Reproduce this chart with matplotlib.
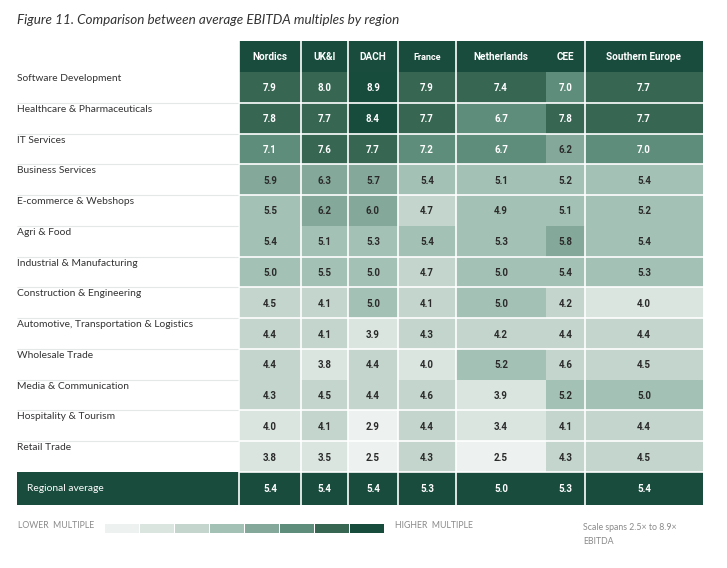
"""
Heatmap table of average EBITDA multiples by sector and region.
"""

import matplotlib.pyplot as plt
import numpy as np
from matplotlib.colors import BoundaryNorm, ListedColormap

plt.rcParams['font.family'] = ['Lato', 'DejaVu Sans']
BOLD_FONT = ['Roboto', 'DejaVu Sans']

regions = ["Nordics", "UK&I", "DACH", "France", "Netherlands", "CEE", "Southern Europe"]
sectors = [
    "Software Development",
    "Healthcare & Pharmaceuticals",
    "IT Services",
    "Business Services",
    "E-commerce & Webshops",
    "Agri & Food",
    "Industrial & Manufacturing",
    "Construction & Engineering",
    "Automotive, Transportation & Logistics",
    "Wholesale Trade",
    "Media & Communication",
    "Hospitality & Tourism",
    "Retail Trade",
]
multiples = [
    [7.9, 8.0, 8.9, 7.9, 7.4, 7.0, 7.7],
    [7.8, 7.7, 8.4, 7.7, 6.7, 7.8, 7.7],
    [7.1, 7.6, 7.7, 7.2, 6.7, 6.2, 7.0],
    [5.9, 6.3, 5.7, 5.4, 5.1, 5.2, 5.4],
    [5.5, 6.2, 6.0, 4.7, 4.9, 5.1, 5.2],
    [5.4, 5.1, 5.3, 5.4, 5.3, 5.8, 5.4],
    [5.0, 5.5, 5.0, 4.7, 5.0, 5.4, 5.3],
    [4.5, 4.1, 5.0, 4.1, 5.0, 4.2, 4.0],
    [4.4, 4.1, 3.9, 4.3, 4.2, 4.4, 4.4],
    [4.4, 3.8, 4.4, 4.0, 5.2, 4.6, 4.5],
    [4.3, 4.5, 4.4, 4.6, 3.9, 5.2, 5.0],
    [4.0, 4.1, 2.9, 4.4, 3.4, 4.1, 4.4],
    [3.8, 3.5, 2.5, 4.3, 2.5, 4.3, 4.5],
]
regional_average = [5.4, 5.4, 5.4, 5.3, 5.0, 5.3, 5.4]

scale_min, scale_max = 2.5, 8.9
palette = ["#edf1ef", "#dae5e0", "#c4d5cd", "#a4c1b5",
           "#84a89a", "#5f8d7b", "#376653", "#174c3d"]
dark = "#194c3d"

# layout in pixels (figure is 727x568 at 100 dpi)
col_edges = np.array([239, 301, 348, 398, 456, 546, 585, 703])
header_top, header_bottom = 41, 72
row_h = (472 - header_bottom) / len(sectors)
row_edges = header_bottom + row_h * np.arange(len(sectors) + 1)
avg_bottom = 505
label_left = 17
no_hline = {5, 10}      # row boundaries where the table shows no white rule
no_vline = {5}          # Netherlands | CEE


def main():
    fig = plt.figure(figsize=(7.27, 5.68), dpi=100)
    ax = fig.add_axes([0, 0, 1, 1])
    ax.set_xlim(0, 727)
    ax.set_ylim(568, 0)
    ax.axis("off")

    values = np.array(multiples)
    bounds = np.linspace(scale_min, scale_max, len(palette) + 1) - 0.01
    bounds[-1] = scale_max + 0.1
    cmap = ListedColormap(palette)
    norm = BoundaryNorm(bounds, cmap.N)

    ax.pcolormesh(col_edges, row_edges, values, cmap=cmap, norm=norm)

    # header band and regional average band
    ax.fill_between([col_edges[0], col_edges[-1]], header_top, header_bottom,
                    color=dark, lw=0)
    ax.fill_between([label_left, col_edges[-1]], row_edges[-1], avg_bottom,
                    color=dark, lw=0)

    centers = (col_edges[:-1] + col_edges[1:]) / 2
    for x, name in zip(centers, regions):
        small = name == "France"
        ax.text(x, (header_top + header_bottom) / 2 + (1.5 if small else 0), name,
                ha="center", va="center", color="white", fontweight="bold",
                family=BOLD_FONT, fontsize=6.5 if small else 7.2)

    for i, (sector, row) in enumerate(zip(sectors, multiples)):
        top = row_edges[i]
        ax.text(label_left, top + 6.5, sector, ha="left", va="center",
                fontsize=7.4, color="#333333")
        for x, v in zip(centers, row):
            ax.text(x, top + row_h / 2 + 1, f"{v:.1f}", ha="center", va="center",
                    fontsize=7.0, fontweight="bold", family=BOLD_FONT,
                    color="white" if v >= 6.45 else "#2b2b2b")

    ax.text(label_left + 10, (row_edges[-1] + avg_bottom) / 2, "Regional average",
            ha="left", va="center", fontsize=7.4, color="white")
    for x, v in zip(centers, regional_average):
        ax.text(x, (row_edges[-1] + avg_bottom) / 2, f"{v:.1f}", ha="center",
                va="center", fontsize=7.0, fontweight="bold", family=BOLD_FONT,
                color="white")

    # white rules inside the table
    for i in range(1, len(sectors) + 1):
        if i not in no_hline:
            ax.hlines(row_edges[i], col_edges[0], col_edges[-1], color="white", lw=1.2)
    for j, x in enumerate(col_edges[:-1]):
        if j not in no_vline:
            ax.vlines(x, header_top, avg_bottom, color="white", lw=1.2)

    # thin grey rules under the sector labels
    for y in row_edges[1:-1]:
        ax.hlines(y, label_left, col_edges[0] - 1, color="#e4e8e6", lw=0.8)

    ax.text(label_left, 20, "Figure 11. Comparison between average EBITDA multiples by region",
            ha="left", va="center", fontsize=9.7, style="italic", color="#333333")

    # legend strip
    sw_left, sw_w, sw_gap = 105, 34, 1
    for k, c in enumerate(palette):
        x0 = sw_left + k * (sw_w + sw_gap)
        ax.fill_between([x0, x0 + sw_w], 524, 533, color=c, lw=0)
    ax.text(label_left + 1, 526, "LOWER  MULTIPLE", ha="left", va="center",
            fontsize=6.3, color="#8a8a8a")
    ax.text(395, 526, "HIGHER  MULTIPLE", ha="left", va="center",
            fontsize=6.3, color="#8a8a8a")
    ax.text(583, 527, "Scale spans 2.5\u00d7 to 8.9\u00d7", ha="left", va="center",
            fontsize=6.3, color="#8a8a8a")
    ax.text(583, 542, "EBITDA", ha="left", va="center", fontsize=6.3, color="#8a8a8a")

    fig.savefig("out.png", dpi=100)


if __name__ == "__main__":
    main()
